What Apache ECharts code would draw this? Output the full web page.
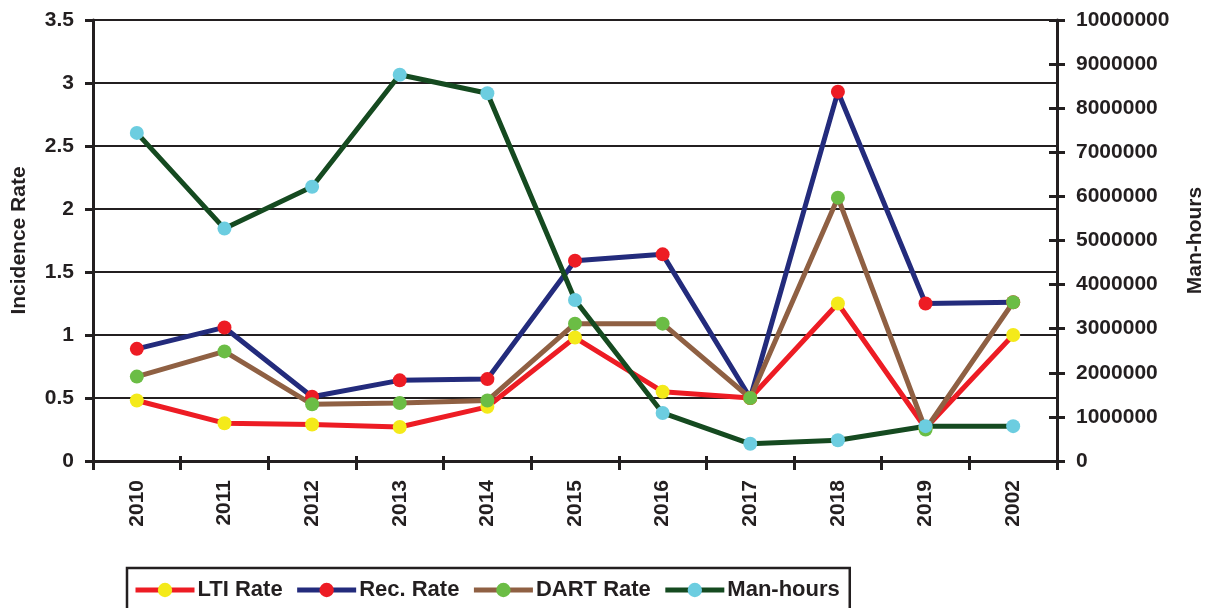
<!DOCTYPE html>
<html>
<head>
<meta charset="utf-8">
<title>Incidence Rate / Man-hours</title>
<script src="https://cdn.jsdelivr.net/npm/echarts@6/dist/echarts.min.js"></script>
<style>
  html, body { margin: 0; padding: 0; background: #fff; }
  #chart { width: 1214px; height: 608px; }
</style>
</head>
<body>
<div id="chart"></div>
<script>
  // categories (as printed on the chart, incl. the "2002" label)
  const years = ["2010", "2011", "2012", "2013", "2014", "2015", "2016", "2017", "2018", "2019", "2002"];

  // left axis: incidence rates
  const ltiRate  = [0.48, 0.30, 0.29, 0.27, 0.43, 0.98, 0.55, 0.50, 1.25, 0.26, 1.00];
  const recRate  = [0.89, 1.06, 0.51, 0.64, 0.65, 1.59, 1.64, 0.50, 2.93, 1.25, 1.26];
  const dartRate = [0.67, 0.87, 0.45, 0.46, 0.48, 1.09, 1.09, 0.50, 2.09, 0.25, 1.26];

  // right axis: man-hours
  const manHours = [7440000, 5270000, 6220000, 8760000, 8340000, 3650000, 1090000, 390000, 470000, 790000, 790000];

  const INK = "#231f20";
  const FONT = "'Liberation Sans', Arial, sans-serif";
  const lbl = { color: INK, fontSize: 21, fontWeight: "bold", fontFamily: FONT };

  function line(name, data, lineColor, dotColor, yIdx) {
    return {
      name, type: "line", data, yAxisIndex: yIdx,
      symbol: "circle", symbolSize: 14,
      lineStyle: { color: lineColor, width: 5 },
      itemStyle: { color: dotColor, borderWidth: 0 },
      emphasis: { disabled: true },
      animation: false,
    };
  }

  const chart = echarts.init(document.getElementById("chart"), null, { renderer: "canvas" });
  chart.setOption({
    backgroundColor: "#fff",
    grid: { left: 93, right: 157, top: 20, bottom: 147, containLabel: false, outerBoundsMode: "none" },
    legend: {
      left: 127, top: 568,
      padding: [11, 10, 30, 6],
      borderColor: INK, borderWidth: 2.5,
      itemWidth: 59, itemHeight: 18, itemGap: 12,
      lineStyle: { width: 5 },
      textStyle: Object.assign({}, lbl, { fontSize: 22, padding: [0, 0, 0, -2] }),
      data: ["LTI Rate", "Rec. Rate", "DART Rate", "Man-hours"],
    },
    xAxis: [
      {
        type: "category", data: years, position: "bottom",
        axisLine: { lineStyle: { color: INK, width: 3 } },
        axisTick: { show: true, length: 9, lineStyle: { color: INK, width: 3 } },
        axisLabel: Object.assign({}, lbl, { rotate: 90, margin: 19 }),
        splitLine: { show: false },
      },
      {
        type: "category", data: years, position: "bottom", gridIndex: 0,
        axisLine: { show: false },
        axisTick: { show: true, inside: true, length: 5, lineStyle: { color: INK, width: 3 } },
        axisLabel: { show: false },
        splitLine: { show: false },
      },
    ],
    yAxis: [
      {
        type: "value", position: "left", min: 0, max: 3.5, interval: 0.5,
        name: "Incidence Rate", nameLocation: "middle", nameGap: 63, nameRotate: 90,
        nameTextStyle: lbl,
        axisLine: { show: true, lineStyle: { color: INK, width: 3 } },
        axisTick: { show: true, length: 8, lineStyle: { color: INK, width: 3 } },
        axisLabel: Object.assign({}, lbl, { margin: 19 }),
        splitLine: { show: true, lineStyle: { color: INK, width: 2 } },
      },
      {
        type: "value", position: "right", min: 0, max: 10000000, interval: 1000000,
        name: "Man-hours", nameLocation: "middle", nameGap: 128, nameRotate: 90,
        nameTextStyle: lbl,
        axisLine: { show: true, lineStyle: { color: INK, width: 3 } },
        axisTick: { show: true, length: 8, lineStyle: { color: INK, width: 3 } },
        axisLabel: Object.assign({}, lbl, { margin: 19, formatter: (v) => String(v) }),
        splitLine: { show: false },
      },
      {
        type: "value", position: "right", min: 0, max: 10000000, interval: 1000000,
        axisLine: { show: false },
        axisTick: { show: true, inside: true, length: 8, lineStyle: { color: INK, width: 3 } },
        axisLabel: { show: false },
        splitLine: { show: false },
      },
    ],
    series: [
      line("LTI Rate", ltiRate, "#ed1c24", "#f4ea1a", 0),
      line("Rec. Rate", recRate, "#232b7c", "#ed1c24", 0),
      line("DART Rate", dartRate, "#8f6043", "#6bbd45", 0),
      line("Man-hours", manHours, "#154a20", "#6ccde0", 1),
    ],
  });
</script>
</body>
</html>
